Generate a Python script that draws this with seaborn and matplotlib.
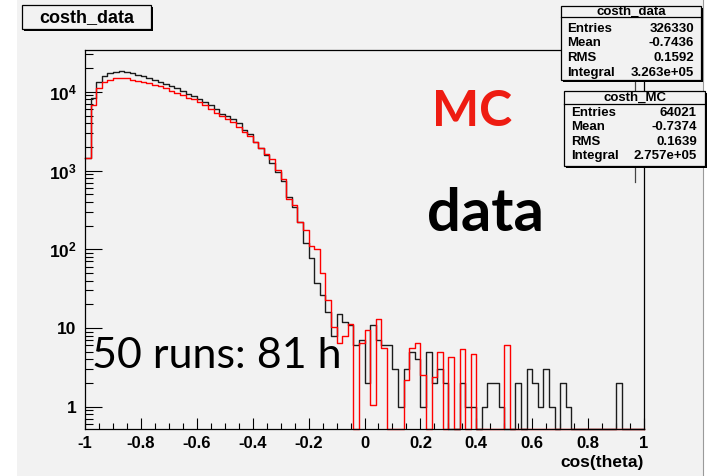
import numpy as np
import pandas as pd
import matplotlib
matplotlib.use("Agg")
import matplotlib.pyplot as plt
import seaborn as sns
from matplotlib.patches import Rectangle
from matplotlib.lines import Line2D
from matplotlib.ticker import FixedLocator, LogLocator, NullFormatter, MultipleLocator

# ---- histogram contents: 100 bins of width 0.02 on [-1, 1] ----
bin_low, bin_high, n_bins = -1.0, 1.0, 100

costh_data = [
    1430, 8240, 13400, 16000, 17300, 17950, 18500, 17950, 17300, 16480,
    16000, 14950, 14230, 13400, 12530, 11700, 11050, 10120, 9350, 8730,
    8070, 7460, 6770, 6000, 5250, 5000, 4550, 3970, 3270, 2920,
    2310, 1950, 1580, 1260, 960, 730, 455, 347, 223, 121,
    78, 37, 26, 16, 8, 15, 12, 11, 6, 7,
    2, 11, 7, 6, 6, 3, 1, 3, 5, 4,
    1, 5, 2, 3, 2, 0, 0, 2, 1, 1,
    0, 1, 2, 2, 1, 0, 0, 2, 0, 3,
    2, 1, 3, 1, 0, 2, 1, 0, 0, 0,
    0, 0, 0, 0, 0, 2, 0, 0, 0, 0,
]

costh_mc = [
    1430, 6770, 11050, 13180, 14070, 14800, 15060, 15060, 14230, 13800,
    13400, 13030, 12280, 11700, 11050, 10300, 9620, 9070, 8470, 8070,
    7460, 6800, 6100, 5460, 4950, 4550, 4100, 3600, 3120, 2720,
    2330, 1940, 1645, 1390, 1020, 770, 439, 360, 223, 175,
    111, 101, 50, 22.9, 10.4, 6.4, 7.8, 11.3, 0, 6.4,
    9.5, 1.05, 13.0, 5.5, 0, 0, 0, 2.2, 5.6, 6.4,
    2.5, 0, 2.4, 5.0, 0, 4.3, 0, 5.4, 0, 4.6,
    0, 0, 0, 0, 0, 6.0, 0, 0, 0, 0,
    0, 0, 0, 0, 0, 0, 0, 0, 0, 0,
    0, 0, 0, 0, 0, 0, 0, 0, 0, 0,
]

# ---- statistics boxes ----
stat_labels = ["Entries", "Mean", "RMS", "Integral"]
data_stats = ["326330", "-0.7436", "0.1592", "3.263e+05"]
mc_stats = ["64021", "-0.7374", "0.1639", "2.757e+05"]

# ---- axis ticks ----
x_ticks = [-1, -0.8, -0.6, -0.4, -0.2, 0, 0.2, 0.4, 0.6, 0.8, 1]
x_tick_labels = ["-1", "-0.8", "-0.6", "-0.4", "-0.2", "0", "0.2", "0.4", "0.6", "0.8", "1"]
y_ticks = [1, 10, 100, 1000, 10000]
y_tick_labels = ["1", "10", r"$\mathbf{10^{2}}$", r"$\mathbf{10^{3}}$", r"$\mathbf{10^{4}}$"]

# ---- style ----
W, H = 715, 476
BG = "#f2f2f2"
YMIN, YMAX = 0.52, 34000

plt.rcParams["axes.unicode_minus"] = False
plt.rcParams["mathtext.fontset"] = "custom"
plt.rcParams["mathtext.rm"] = "Liberation Sans"
plt.rcParams["mathtext.bf"] = "Liberation Sans:bold"
plt.rcParams["font.family"] = ["Liberation Sans", "DejaVu Sans"]


def fx(x):
    return x / W


def fy(y):
    return 1 - y / H


fig = plt.figure(figsize=(W / 100, H / 100), dpi=100, facecolor="white")

# grey canvas
fig.patches.append(Rectangle((fx(17), 0), fx(703) - fx(17), 1, transform=fig.transFigure,
                             facecolor=BG, edgecolor="none", zorder=-20))
fig.add_artist(Line2D([fx(703), fx(703)], [0, 1], transform=fig.transFigure,
                      color="#9a9a9a", lw=0.8))

ax_l, ax_r, ax_t, ax_b = 85, 644, 50, 429
ax = fig.add_axes([fx(ax_l), fy(ax_b), fx(ax_r) - fx(ax_l), (ax_b - ax_t) / H])
ax.set_facecolor(BG)

edges = np.linspace(bin_low, bin_high, n_bins + 1)
centers = 0.5 * (edges[:-1] + edges[1:])

df = pd.DataFrame({
    "cos": np.concatenate([centers, centers]),
    "count": np.concatenate([np.maximum(costh_data, YMIN), np.maximum(costh_mc, YMIN)]),
    "sample": ["costh_data"] * n_bins + ["costh_MC"] * n_bins,
})

sns.histplot(data=df[df["sample"] == "costh_data"], x="cos", weights="count",
             bins=n_bins, binrange=(bin_low, bin_high),
             element="step", fill=False, color="#1c1c1c", linewidth=1.0, ax=ax)
sns.histplot(data=df[df["sample"] == "costh_MC"], x="cos", weights="count",
             bins=n_bins, binrange=(bin_low, bin_high),
             element="step", fill=False, color="#ff0000", linewidth=1.0, ax=ax)
for ln in ax.lines:
    ln.set_clip_on(False)

ax.set_yscale("log")
ax.set_xlim(bin_low, bin_high)
ax.set_ylim(YMIN, YMAX)

# axes frame and ticks
for sp in ax.spines.values():
    sp.set_color("black")
    sp.set_linewidth(0.9)

ax.set_xticks(x_ticks, labels=x_tick_labels, fontweight="bold", fontsize=12)
ax.xaxis.set_minor_locator(MultipleLocator(0.05))
ax.yaxis.set_major_locator(FixedLocator(y_ticks))
ax.set_yticklabels(y_tick_labels, fontweight="bold", fontsize=12.5)
ax.yaxis.set_minor_locator(LogLocator(base=10, subs=np.arange(2, 10)))
ax.yaxis.set_minor_formatter(NullFormatter())

ax.tick_params(axis="x", which="major", direction="in", length=8, width=0.8, top=False, pad=5,
               colors="black")
ax.tick_params(axis="x", which="minor", direction="in", length=4, width=0.8, top=False)
ax.tick_params(axis="y", which="major", direction="in", length=12.5, width=0.8, right=False, pad=6)
ax.tick_params(axis="y", which="minor", direction="in", length=6, width=0.8, right=False)

ax.set_xlabel("cos(theta)", fontweight="bold", fontsize=12.5)
ax.xaxis.label.set_ha("right")
ax.xaxis.label.set_va("center")
ax.xaxis.set_label_coords(1.0, -(463 - ax_b) / (ax_b - ax_t))
ax.set_ylabel("")

# annotations on the pad
fig.text(fx(472), fy(111), "MC", color="#ee1c12", fontsize=36, fontweight="bold",
         family="Lato", ha="center", va="center")
fig.text(fx(427), fy(231), "data", color="black", fontsize=43, fontweight="bold",
         family="Lato", ha="left", va="baseline")
fig.text(fx(92), fy(368), "50 runs: 81 h", color="black", fontsize=31,
         family="Lato", ha="left", va="baseline", zorder=10)


def draw_box(x0, y0, x1, y1):
    # shadow, then framed box (pixel coordinates)
    fig.patches.append(Rectangle((fx(x0 + 2), fy(y1 + 2)), fx(x1) - fx(x0), (y1 - y0) / H,
                                 transform=fig.transFigure, facecolor="black",
                                 edgecolor="none", zorder=5))
    fig.patches.append(Rectangle((fx(x0), fy(y1)), fx(x1) - fx(x0), (y1 - y0) / H,
                                 transform=fig.transFigure, facecolor=BG,
                                 edgecolor="black", lw=0.9, zorder=6))


# histogram title
draw_box(22, 5, 151, 29)
fig.text(fx(86.5), fy(17.5), "costh_data", fontsize=13, fontweight="bold",
         ha="center", va="center", zorder=7)

# connector line between statistics boxes
fig.add_artist(Line2D([fx(635), fx(635)], [fy(80), fy(182)], transform=fig.transFigure,
                      color="#444444", lw=0.9, zorder=4))


def stats_box(x0, y0, x1, y1, title, values, header_line, row_ys, lx, rx):
    draw_box(x0, y0, x1, y1)
    fig.add_artist(Line2D([fx(x0), fx(x1)], [fy(header_line), fy(header_line)],
                          transform=fig.transFigure, color="black", lw=0.9, zorder=7))
    fig.text(fx((x0 + x1) / 2), fy((y0 + header_line) / 2), title, fontsize=9.5,
             fontweight="bold", ha="center", va="center", zorder=8)
    for lab, val, ry in zip(stat_labels, values, row_ys):
        fig.text(fx(lx), fy(ry), lab, fontsize=9.5, fontweight="bold",
                 ha="left", va="center", zorder=8)
        fig.text(fx(rx), fy(ry), val, fontsize=9.5, fontweight="bold",
                 ha="right", va="center", zorder=8)


stats_box(561, 6, 701, 80, "costh_data", data_stats, 17, [29, 43.5, 58, 73], 567, 694)
stats_box(564, 91, 705, 166, "costh_MC", mc_stats, 104, [113, 127.5, 142, 156], 571, 697)

fig.savefig("out.png", dpi=100, facecolor=fig.get_facecolor())
